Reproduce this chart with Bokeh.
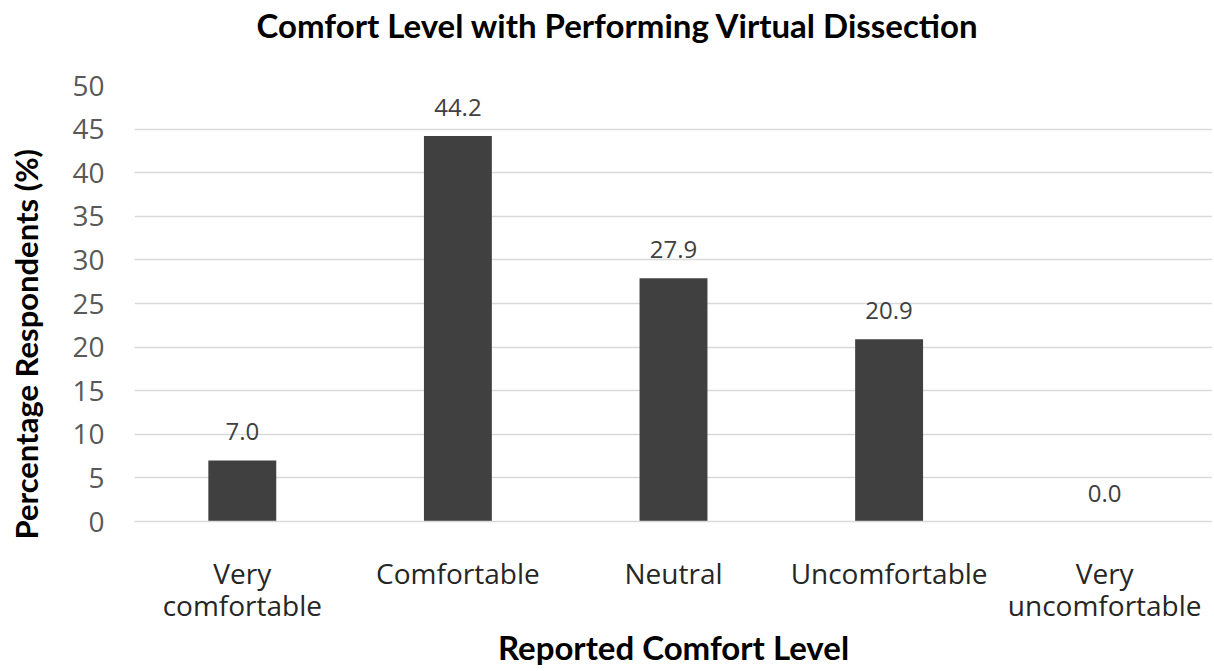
from bokeh.plotting import figure
from bokeh.models import ColumnDataSource, FactorRange, Title
from bokeh.core.properties import value
from bokeh.embed import file_html
from bokeh.resources import INLINE

categories = ["Very\ncomfortable", "Comfortable", "Neutral", "Uncomfortable", "Very\nuncomfortable"]
percentages = [7.0, 44.2, 27.9, 20.9, 0.0]
labels = ["%.1f" % v for v in percentages]
y_ticks = [0, 5, 10, 15, 20, 25, 30, 35, 40, 45, 50]

src = ColumnDataSource(dict(cat=categories, val=percentages, lab=labels))

p = figure(
    x_range=FactorRange(*categories),
    y_range=(0, 50),
    width=1212, height=669,
    output_backend="svg", toolbar_location=None,
    min_border_left=134, min_border_right=0, min_border_top=83, min_border_bottom=148,
)
p.x_range.range_padding = 0
p.outline_line_color = None
p.background_fill_color = "white"
p.border_fill_color = "white"

p.vbar(x="cat", top="val", width=0.315, source=src, fill_color="#404040", line_color=None)

p.text(x="cat", y="val", text="lab", source=src, text_align="center", text_baseline="bottom",
       y_offset=-20, text_font=value("Open Sans"), text_font_size="24px", text_color="#404040")

# grid
p.xgrid.grid_line_color = None
p.ygrid.grid_line_color = "#d9d9d9"
p.ygrid.grid_line_width = 1.5
p.yaxis.ticker = y_ticks

# y axis
p.yaxis.axis_line_color = None
p.yaxis.major_tick_line_color = None
p.yaxis.major_tick_out = 0
p.yaxis.major_tick_in = 0
p.yaxis.minor_tick_line_color = None
p.yaxis.major_label_text_font = "Open Sans"
p.yaxis.major_label_text_font_size = "28px"
p.yaxis.major_label_text_color = "#595959"
p.yaxis.major_label_standoff = 30

# x axis
p.xaxis.axis_line_color = "#d9d9d9"
p.xaxis.axis_line_width = 1.5
p.xaxis.major_tick_line_color = None
p.xaxis.major_tick_out = 0
p.xaxis.major_tick_in = 0
p.xaxis.minor_tick_line_color = None
p.xaxis.major_label_text_font = "Open Sans"
p.xaxis.major_label_text_font_size = "28px"
p.xaxis.major_label_text_color = "#262626"
p.xaxis.major_label_text_line_height = 0.845
p.xaxis.major_label_standoff = 32

# titles (spacers keep the texts away from the frame)
top_spacer = Title(text=" ", text_font_size="1px", standoff=36)
p.add_layout(top_spacer, "above")
main_title = Title(text="Comfort Level with Performing Virtual Dissection", align="left", offset=122,
                   text_font="Lato", text_font_size="33px", text_font_style="bold",
                   text_color="#000000", standoff=4)
p.add_layout(main_title, "above")

left_spacer = Title(text=" ", text_font_size="1px", standoff=22)
p.add_layout(left_spacer, "left")
ytitle = Title(text="Percentage Respondents (%)", align="left", offset=-18,
               text_font="Lato", text_font_size="31px", text_font_style="bold",
               text_color="#000000", standoff=0)
p.add_layout(ytitle, "left")

xtitle = Title(text="Reported Comfort Level", align="center", offset=5,
               text_font="Lato", text_font_size="33px", text_font_style="bold",
               text_color="#000000", standoff=-3)
p.add_layout(xtitle, "below")

open("out.html", "w").write(file_html(p, INLINE))
